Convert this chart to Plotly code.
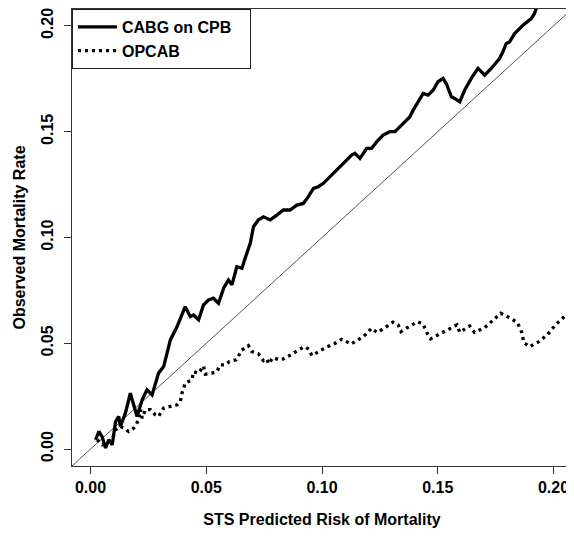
import plotly.graph_objects as go

# ---- data ----
cabg_x = [0.0022, 0.0036, 0.0050, 0.0065, 0.0079, 0.0094, 0.0108, 0.0122, 0.0129, 0.0151,
          0.0172, 0.0187, 0.0201, 0.0223, 0.0244, 0.0266, 0.0294, 0.0316, 0.0331, 0.0345,
          0.0374, 0.0409, 0.0431, 0.0445, 0.0467, 0.0488, 0.0510, 0.0531, 0.0553, 0.0575,
          0.0596, 0.0611, 0.0632, 0.0654, 0.0668, 0.0690, 0.0704, 0.0725, 0.0747, 0.0776,
          0.0805, 0.0833, 0.0862, 0.0891, 0.0919, 0.0941, 0.0963, 0.0984, 0.1006, 0.1034,
          0.1063, 0.1092, 0.1128, 0.1142, 0.1164, 0.1193, 0.1214, 0.1236, 0.1264, 0.1293,
          0.1315, 0.1336, 0.1358, 0.1379, 0.1394, 0.1415, 0.1437, 0.1458, 0.1480, 0.1501,
          0.1523, 0.1538, 0.1559, 0.1573, 0.1595, 0.1616, 0.1645, 0.1674, 0.1703, 0.1731,
          0.1767, 0.1781, 0.1796, 0.1810, 0.1832, 0.1868, 0.1904, 0.1918, 0.1931]
cabg_y = [0.0044, 0.0083, 0.0059, 0.0005, 0.0044, 0.0020, 0.0130, 0.0154, 0.0107, 0.0171,
          0.0264, 0.0201, 0.0154, 0.0233, 0.0280, 0.0256, 0.0359, 0.0390, 0.0461, 0.0516,
          0.0579, 0.0673, 0.0626, 0.0634, 0.0611, 0.0681, 0.0705, 0.0713, 0.0689, 0.0760,
          0.0799, 0.0776, 0.0862, 0.0855, 0.0902, 0.0973, 0.1051, 0.1083, 0.1098, 0.1083,
          0.1106, 0.1130, 0.1130, 0.1153, 0.1161, 0.1193, 0.1232, 0.1240, 0.1256, 0.1287,
          0.1319, 0.1350, 0.1390, 0.1398, 0.1374, 0.1421, 0.1421, 0.1452, 0.1484, 0.1500,
          0.1500, 0.1523, 0.1547, 0.1570, 0.1602, 0.1641, 0.1681, 0.1673, 0.1696, 0.1736,
          0.1752, 0.1725, 0.1665, 0.1657, 0.1641, 0.1696, 0.1752, 0.1799, 0.1767, 0.1799,
          0.1846, 0.1877, 0.1917, 0.1924, 0.1964, 0.2003, 0.2035, 0.2059, 0.2098]

opcab_x = [0.0029, 0.0050, 0.0072, 0.0094, 0.0108, 0.0129, 0.0144, 0.0165, 0.0187, 0.0208,
           0.0216, 0.0223, 0.0237, 0.0259, 0.0280, 0.0294, 0.0316, 0.0345, 0.0374, 0.0388,
           0.0395, 0.0409, 0.0438, 0.0445, 0.0467, 0.0488, 0.0496, 0.0525, 0.0546, 0.0560,
           0.0582, 0.0600, 0.0629, 0.0637, 0.0651, 0.0682, 0.0697, 0.0725, 0.0747, 0.0762,
           0.0769, 0.0788, 0.0815, 0.0833, 0.0866, 0.0894, 0.0924, 0.0943, 0.0956, 0.0987,
           0.1020, 0.1052, 0.1085, 0.1106, 0.1124, 0.1156, 0.1187, 0.1214, 0.1238, 0.1272,
           0.1307, 0.1329, 0.1341, 0.1376, 0.1413, 0.1437, 0.1454, 0.1469, 0.1506, 0.1549,
           0.1583, 0.1595, 0.1638, 0.1659, 0.1703, 0.1736, 0.1772, 0.1810, 0.1844, 0.1863,
           0.1872, 0.1897, 0.1937, 0.1973, 0.2009, 0.2047, 0.2062, 0.2069, 0.2083]
opcab_y = [0.0044, 0.0020, 0.0028, 0.0044, 0.0091, 0.0107, 0.0099, 0.0083, 0.0099, 0.0138,
           0.0186, 0.0146, 0.0186, 0.0186, 0.0162, 0.0154, 0.0194, 0.0201, 0.0209, 0.0225,
           0.0264, 0.0312, 0.0327, 0.0366, 0.0359, 0.0393, 0.0354, 0.0359, 0.0366, 0.0398,
           0.0398, 0.0414, 0.0422, 0.0434, 0.0466, 0.0489, 0.0461, 0.0450, 0.0418, 0.0426,
           0.0403, 0.0432, 0.0422, 0.0426, 0.0445, 0.0466, 0.0484, 0.0472, 0.0442, 0.0461,
           0.0482, 0.0497, 0.0519, 0.0508, 0.0496, 0.0516, 0.0540, 0.0571, 0.0551, 0.0574,
           0.0600, 0.0587, 0.0555, 0.0579, 0.0602, 0.0590, 0.0548, 0.0521, 0.0544, 0.0567,
           0.0587, 0.0552, 0.0582, 0.0551, 0.0574, 0.0607, 0.0642, 0.0621, 0.0598, 0.0552,
           0.0503, 0.0484, 0.0508, 0.0540, 0.0587, 0.0626, 0.0634, 0.0587, 0.0587]

tick_vals = [0.00, 0.05, 0.10, 0.15, 0.20]
tick_text = ["0.00", "0.05", "0.10", "0.15", "0.20"]
axis_range = [-0.008, 0.208]

FONT = "Liberation Sans, Arial, sans-serif"
NBSP = "\u00a0"

fig = go.Figure()

# identity (y = x) reference line across the whole plot
fig.add_trace(go.Scatter(x=axis_range, y=axis_range, mode="lines",
                         line=dict(color="#555555", width=1), showlegend=False,
                         hoverinfo="skip"))
fig.add_trace(go.Scatter(x=cabg_x, y=cabg_y, mode="lines", name="CABG on CPB" + NBSP * 3,
                         line=dict(color="black", width=3.3)))
fig.add_trace(go.Scatter(x=opcab_x, y=opcab_y, mode="lines", name="OPCAB",
                         line=dict(color="black", width=3.3, dash="3px,4px")))

axis_common = dict(
    range=axis_range, tickvals=tick_vals, ticktext=tick_text,
    showline=True, mirror=True, linecolor="#333333", linewidth=1,
    ticks="outside", ticklen=7, tickcolor="#333333", tickwidth=1,
    showgrid=False, zeroline=False, automargin=False,
    ticklabeloverflow="allow",
    tickfont=dict(family=FONT, size=16, color="black", weight="bold"),
)

# the page body adds an 8px margin on every side, so the figure is kept
# 16px smaller in height to avoid a scrollbar and 8px narrower in width
fig.update_layout(
    width=566, height=520,
    margin=dict(l=64, r=2, t=1, b=62),
    paper_bgcolor="white", plot_bgcolor="white",
    font=dict(family=FONT, size=16, color="black"),
    xaxis=dict(**axis_common,
               title=dict(text="STS Predicted Risk of Mortality", standoff=21,
                          font=dict(family=FONT, size=16, color="black", weight="bold"))),
    yaxis=dict(**axis_common, tickangle=-90, ticklabelstandoff=5,
               title=dict(text="Observed Mortality Rate", standoff=8,
                          font=dict(family=FONT, size=16, color="black", weight="bold"))),
    legend=dict(x=0, y=1, xanchor="left", yanchor="top",
                bordercolor="#222222", borderwidth=1, bgcolor="white",
                font=dict(family=FONT, size=16, color="black", weight="bold"),
                tracegroupgap=0, itemwidth=39),
    showlegend=True,
)

fig.write_html("out.html")
